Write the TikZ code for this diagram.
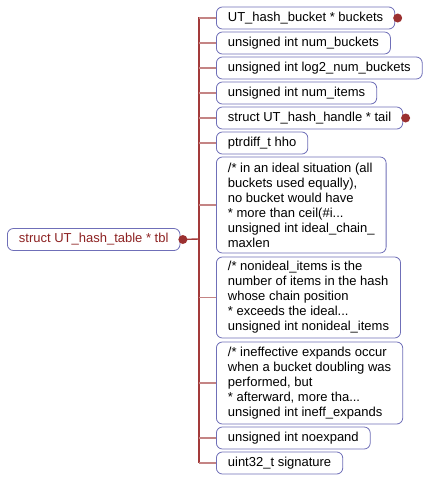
\documentclass[tikz,border=0pt]{standalone}
\usepackage{fontspec}
\setmainfont{Liberation Sans}
\definecolor{boxblue}{HTML}{6F6FB8}
\definecolor{linkred}{HTML}{C48484}
\definecolor{trunkred}{HTML}{A33A3A}
\definecolor{dotred}{HTML}{9B3030}
\definecolor{roottext}{HTML}{8E2323}
\begin{document}
\begin{tikzpicture}[x=1pt, y=-1pt,
	field/.style = {draw=boxblue, line width=0.8pt, rounded corners=6pt, fill=white,
		align=left, anchor=west, inner xsep=11.5pt, inner ysep=0pt,
		minimum height=22pt, font=\fontsize{13}{15}\selectfont},
	link/.style = {draw=linkred, line width=1.4pt}]

	\useasboundingbox (0,0) rectangle (428,480);

	\coordinate (T) at (199,239);

	\draw [trunkred, line width=1.4pt] (199,17) -- (199,463);

	\node [field, text=roottext] (tbl) at (7,239.5) {struct UT\_hash\_table * tbl};

	\node [field] (buckets) at (216,18) {UT\_hash\_bucket * buckets};
	\node [field] (numbuckets) at (216,43) {unsigned int num\_buckets};
	\node [field] (log2) at (216,68) {unsigned int log2\_num\_buckets};
	\node [field] (numitems) at (216,93) {unsigned int num\_items};
	\node [field] (tail) at (216,118) {struct UT\_hash\_handle * tail};
	\node [field] (hho) at (216,143) {ptrdiff\_t hho};
	\node [field, minimum height=96pt] (ideal) at (216,205)
		{/* in an ideal situation (all\\buckets used equally),\\no bucket would have\\* more than ceil(\#i...\\unsigned int ideal\_chain\_\\maxlen};
	\node [field, minimum height=81pt] (nonideal) at (216,297.5)
		{/* nonideal\_items is the\\number of items in the hash\\whose chain position\\* exceeds the ideal...\\unsigned int nonideal\_items};
	\node [field, minimum height=82pt] (ineff) at (216,383)
		{/* ineffective expands occur\\when a bucket doubling was\\performed, but\\* afterward, more tha...\\unsigned int ineff\_expands};
	\node [field] (noexpand) at (216,438) {unsigned int noexpand};
	\node [field] (signature) at (216,463) {uint32\_t signature};

	\draw [trunkred, line width=1.4pt] (tbl.east) -- (T);

	\foreach \f in {buckets, numbuckets, log2, numitems, tail, hho, ideal, nonideal, ineff, noexpand, signature}
		\draw [link] (T |- \f.west) -- (\f.west);

	\foreach \point in {tbl, buckets, tail} \fill [dotred] ([xshift=2.5pt]\point.east) circle (4.5pt);

\end{tikzpicture}
\end{document}
